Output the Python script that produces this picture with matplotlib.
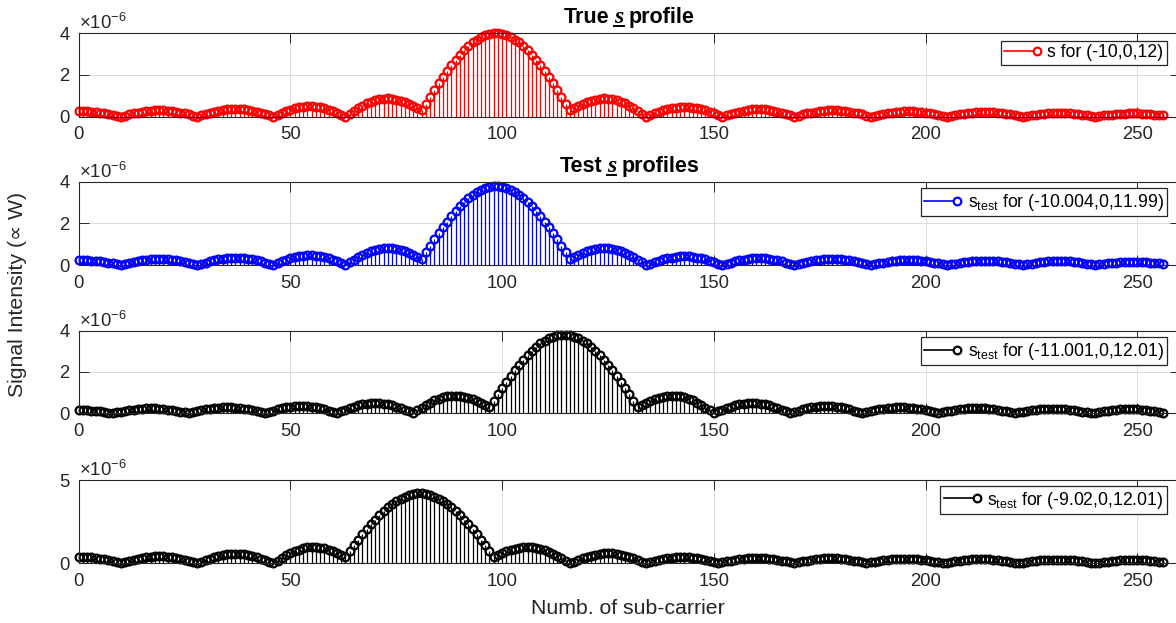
import numpy as np
import matplotlib
matplotlib.use('Agg')
import matplotlib.pyplot as plt
from matplotlib.legend_handler import HandlerLine2D
from matplotlib.lines import Line2D
from matplotlib.ticker import ScalarFormatter
from matplotlib.transforms import IdentityTransform

plt.rcParams['font.family'] = ['Liberation Sans', 'DejaVu Sans']
plt.rcParams['mathtext.fontset'] = 'custom'
plt.rcParams['mathtext.rm'] = 'Liberation Sans'
plt.rcParams['mathtext.it'] = 'Liberation Sans:italic'
plt.rcParams['mathtext.bf'] = 'Liberation Sans:bold'

# signal intensity per sub-carrier, in units of 1e-6 W
s_true = [
    0.25, 0.25, 0.25, 0.23, 0.22, 0.19, 0.16, 0.13, 0.09, 0.04, 0.00,
    0.05, 0.11, 0.16, 0.20, 0.24, 0.27, 0.29, 0.30, 0.31, 0.30, 0.29, 0.27, 0.24, 0.20, 0.16, 0.11, 0.05, 0.00,
    0.06, 0.13, 0.19, 0.24, 0.28, 0.32, 0.35, 0.36, 0.37, 0.36, 0.35, 0.32, 0.28, 0.24, 0.19, 0.13, 0.06, 0.00,
    0.09, 0.18, 0.26, 0.34, 0.40, 0.45, 0.48, 0.50, 0.50, 0.48, 0.45, 0.40, 0.34, 0.26, 0.18, 0.09, 0.00,
    0.14, 0.28, 0.41, 0.53, 0.64, 0.72, 0.79, 0.84, 0.87, 0.88, 0.86, 0.82, 0.77, 0.70, 0.61, 0.51, 0.41, 0.30,
    0.63, 0.96, 1.28, 1.60, 1.91, 2.20, 2.48, 2.73, 2.97, 3.19, 3.39, 3.56, 3.70, 3.82, 3.91, 3.97, 4.00,
    4.00, 3.97, 3.91, 3.82, 3.70, 3.56, 3.39, 3.19, 2.97, 2.73, 2.48, 2.20, 1.91, 1.60, 1.28, 0.96, 0.63, 0.30,
    0.41, 0.51, 0.61, 0.70, 0.77, 0.82, 0.86, 0.88, 0.87, 0.84, 0.79, 0.72, 0.64, 0.53, 0.41, 0.28, 0.14, 0.00,
    0.08, 0.16, 0.23, 0.30, 0.35, 0.40, 0.43, 0.45, 0.46, 0.45, 0.43, 0.40, 0.35, 0.30, 0.23, 0.16, 0.08, 0.00,
    0.07, 0.13, 0.19, 0.24, 0.29, 0.32, 0.35, 0.36, 0.36, 0.35, 0.32, 0.29, 0.24, 0.19, 0.13, 0.07, 0.00,
    0.05, 0.11, 0.16, 0.20, 0.24, 0.27, 0.29, 0.30, 0.31, 0.30, 0.29, 0.27, 0.24, 0.20, 0.16, 0.11, 0.05, 0.00,
    0.04, 0.09, 0.13, 0.16, 0.19, 0.22, 0.24, 0.25, 0.25, 0.25, 0.24, 0.22, 0.19, 0.16, 0.13, 0.09, 0.04, 0.00,
    0.04, 0.08, 0.11, 0.14, 0.17, 0.19, 0.21, 0.22, 0.22, 0.22, 0.21, 0.19, 0.17, 0.14, 0.11, 0.08, 0.04, 0.00,
    0.03, 0.07, 0.10, 0.13, 0.15, 0.17, 0.18, 0.19, 0.19, 0.18, 0.17, 0.15, 0.13, 0.10, 0.07, 0.03, 0.00,
    0.03, 0.06, 0.08, 0.10, 0.12, 0.14, 0.15, 0.16, 0.16, 0.16, 0.15, 0.14, 0.12, 0.10, 0.08, 0.06]

s_test_1 = [
    0.22, 0.22, 0.22, 0.21, 0.19, 0.17, 0.14, 0.11, 0.08, 0.04, 0.00,
    0.05, 0.10, 0.15, 0.19, 0.23, 0.26, 0.28, 0.30, 0.30, 0.30, 0.28, 0.26, 0.23, 0.19, 0.15, 0.10, 0.05, 0.00,
    0.06, 0.12, 0.18, 0.23, 0.28, 0.31, 0.34, 0.35, 0.36, 0.35, 0.34, 0.31, 0.28, 0.23, 0.18, 0.12, 0.06, 0.00,
    0.09, 0.17, 0.25, 0.32, 0.38, 0.42, 0.45, 0.47, 0.47, 0.45, 0.42, 0.38, 0.32, 0.25, 0.17, 0.09, 0.00,
    0.13, 0.26, 0.38, 0.49, 0.59, 0.67, 0.74, 0.78, 0.81, 0.82, 0.80, 0.77, 0.72, 0.66, 0.58, 0.49, 0.40, 0.30,
    0.61, 0.92, 1.23, 1.52, 1.81, 2.09, 2.35, 2.59, 2.82, 3.02, 3.20, 3.36, 3.50, 3.61, 3.69, 3.75, 3.78,
    3.78, 3.75, 3.69, 3.61, 3.50, 3.36, 3.20, 3.02, 2.82, 2.59, 2.35, 2.09, 1.81, 1.52, 1.23, 0.92, 0.61, 0.30,
    0.40, 0.49, 0.58, 0.66, 0.72, 0.77, 0.80, 0.82, 0.81, 0.78, 0.74, 0.67, 0.59, 0.49, 0.38, 0.26, 0.13, 0.00,
    0.07, 0.14, 0.21, 0.27, 0.32, 0.36, 0.39, 0.41, 0.42, 0.41, 0.39, 0.36, 0.32, 0.27, 0.21, 0.14, 0.07, 0.00,
    0.06, 0.12, 0.17, 0.22, 0.26, 0.30, 0.32, 0.33, 0.33, 0.32, 0.30, 0.26, 0.22, 0.17, 0.12, 0.06, 0.00,
    0.05, 0.10, 0.15, 0.19, 0.22, 0.25, 0.27, 0.29, 0.29, 0.29, 0.27, 0.25, 0.22, 0.19, 0.15, 0.10, 0.05, 0.00,
    0.04, 0.08, 0.12, 0.15, 0.18, 0.21, 0.23, 0.24, 0.24, 0.24, 0.23, 0.21, 0.18, 0.15, 0.12, 0.08, 0.04, 0.00,
    0.04, 0.07, 0.11, 0.14, 0.16, 0.18, 0.20, 0.21, 0.21, 0.21, 0.20, 0.18, 0.16, 0.14, 0.11, 0.07, 0.04, 0.00,
    0.03, 0.07, 0.10, 0.13, 0.15, 0.17, 0.18, 0.19, 0.19, 0.18, 0.17, 0.15, 0.13, 0.10, 0.07, 0.03, 0.00,
    0.03, 0.06, 0.08, 0.10, 0.12, 0.14, 0.15, 0.16, 0.16, 0.16, 0.15, 0.14, 0.12, 0.10, 0.08, 0.06]

s_test_2 = [
    0.17, 0.16, 0.15, 0.13, 0.11, 0.09, 0.06, 0.03, 0.00,
    0.04, 0.08, 0.12, 0.15, 0.18, 0.21, 0.23, 0.24, 0.24, 0.24, 0.23, 0.21, 0.18, 0.15, 0.12, 0.08, 0.04, 0.00,
    0.05, 0.10, 0.15, 0.19, 0.22, 0.25, 0.27, 0.29, 0.29, 0.29, 0.27, 0.25, 0.22, 0.19, 0.15, 0.10, 0.05, 0.00,
    0.07, 0.13, 0.19, 0.24, 0.29, 0.32, 0.35, 0.36, 0.36, 0.35, 0.32, 0.29, 0.24, 0.19, 0.13, 0.07, 0.00,
    0.09, 0.17, 0.25, 0.32, 0.38, 0.43, 0.47, 0.49, 0.50, 0.49, 0.47, 0.43, 0.38, 0.32, 0.25, 0.17, 0.09, 0.00,
    0.14, 0.27, 0.40, 0.52, 0.62, 0.71, 0.77, 0.82, 0.85, 0.86, 0.84, 0.81, 0.75, 0.68, 0.60, 0.51, 0.40, 0.30,
    0.61, 0.93, 1.23, 1.53, 1.82, 2.09, 2.36, 2.60, 2.83, 3.04, 3.22, 3.38, 3.52, 3.63, 3.71, 3.77, 3.80,
    3.80, 3.77, 3.71, 3.63, 3.52, 3.38, 3.22, 3.04, 2.83, 2.60, 2.36, 2.09, 1.82, 1.53, 1.23, 0.93, 0.61, 0.30,
    0.40, 0.51, 0.60, 0.68, 0.75, 0.81, 0.84, 0.86, 0.85, 0.82, 0.77, 0.71, 0.62, 0.52, 0.40, 0.27, 0.14, 0.00,
    0.09, 0.17, 0.25, 0.32, 0.38, 0.43, 0.47, 0.49, 0.50, 0.49, 0.47, 0.43, 0.38, 0.32, 0.25, 0.17, 0.09, 0.00,
    0.07, 0.13, 0.19, 0.24, 0.29, 0.32, 0.35, 0.36, 0.36, 0.35, 0.32, 0.29, 0.24, 0.19, 0.13, 0.07, 0.00,
    0.05, 0.10, 0.15, 0.19, 0.23, 0.26, 0.28, 0.30, 0.30, 0.30, 0.28, 0.26, 0.23, 0.19, 0.15, 0.10, 0.05, 0.00,
    0.05, 0.09, 0.13, 0.17, 0.20, 0.23, 0.24, 0.26, 0.26, 0.26, 0.24, 0.23, 0.20, 0.17, 0.13, 0.09, 0.05, 0.00,
    0.04, 0.08, 0.11, 0.14, 0.17, 0.19, 0.21, 0.22, 0.22, 0.22, 0.21, 0.19, 0.17, 0.14, 0.11, 0.08, 0.04, 0.00,
    0.03, 0.07, 0.10, 0.13, 0.15, 0.17, 0.19, 0.20, 0.20, 0.20, 0.19, 0.17, 0.15, 0.13, 0.10, 0.07, 0.03]

s_test_3 = [
    0.36, 0.37, 0.36, 0.35, 0.32, 0.28, 0.24, 0.19, 0.13, 0.06, 0.00,
    0.07, 0.14, 0.21, 0.27, 0.32, 0.36, 0.39, 0.41, 0.42, 0.41, 0.39, 0.36, 0.32, 0.27, 0.21, 0.14, 0.07, 0.00,
    0.10, 0.19, 0.28, 0.36, 0.43, 0.48, 0.53, 0.55, 0.56, 0.55, 0.53, 0.48, 0.43, 0.36, 0.28, 0.19, 0.10, 0.00,
    0.16, 0.32, 0.47, 0.61, 0.72, 0.82, 0.90, 0.95, 0.97, 0.97, 0.94, 0.89, 0.82, 0.73, 0.63, 0.52, 0.40,
    0.74, 1.08, 1.41, 1.74, 2.05, 2.35, 2.63, 2.90, 3.15, 3.37, 3.57, 3.75, 3.89, 4.01, 4.10, 4.17, 4.20,
    4.20, 4.17, 4.10, 4.01, 3.89, 3.75, 3.57, 3.37, 3.15, 2.90, 2.63, 2.35, 2.05, 1.74, 1.41, 1.08, 0.74, 0.40,
    0.51, 0.62, 0.71, 0.80, 0.87, 0.92, 0.96, 0.97, 0.96, 0.93, 0.87, 0.79, 0.69, 0.58, 0.45, 0.30, 0.15, 0.00,
    0.10, 0.21, 0.30, 0.39, 0.46, 0.52, 0.56, 0.59, 0.60, 0.59, 0.56, 0.52, 0.46, 0.39, 0.30, 0.21, 0.10, 0.00,
    0.07, 0.14, 0.20, 0.26, 0.30, 0.34, 0.37, 0.38, 0.38, 0.37, 0.34, 0.30, 0.26, 0.20, 0.14, 0.07, 0.00,
    0.05, 0.11, 0.16, 0.20, 0.24, 0.27, 0.29, 0.30, 0.31, 0.30, 0.29, 0.27, 0.24, 0.20, 0.16, 0.11, 0.05, 0.00,
    0.06, 0.11, 0.16, 0.20, 0.24, 0.27, 0.29, 0.30, 0.30, 0.29, 0.27, 0.24, 0.20, 0.16, 0.11, 0.06, 0.00,
    0.05, 0.09, 0.14, 0.17, 0.21, 0.23, 0.25, 0.27, 0.27, 0.27, 0.25, 0.23, 0.21, 0.17, 0.14, 0.09, 0.05, 0.00,
    0.04, 0.09, 0.13, 0.16, 0.19, 0.22, 0.23, 0.25, 0.25, 0.25, 0.23, 0.22, 0.19, 0.16, 0.13, 0.09, 0.04, 0.00,
    0.04, 0.08, 0.11, 0.14, 0.17, 0.19, 0.21, 0.22, 0.22, 0.22, 0.21, 0.19, 0.17, 0.14, 0.11, 0.08, 0.04, 0.00,
    0.03, 0.07, 0.10, 0.13, 0.15, 0.17, 0.19, 0.20, 0.20, 0.20, 0.19, 0.17, 0.15, 0.13, 0.10, 0.07]

series = [s_true, s_test_1, s_test_2, s_test_3]
colors = ['#ff0000', '#0000ff', '#000000', '#000000']
labels = ['s for (-10,0,12)',
          r'$\mathregular{s_{test}}$ for (-10.004,0,11.99)',
          r'$\mathregular{s_{test}}$ for (-11.001,0,12.01)',
          r'$\mathregular{s_{test}}$ for (-9.02,0,12.01)']
y_max = [4, 4, 4, 5]
y_ticks = [[0, 2, 4], [0, 2, 4], [0, 2, 4], [0, 5]]
x_ticks = [0, 50, 100, 150, 200, 250]

# axes boxes in figure fractions (left, bottom, width, height)
boxes = [(0.0669, 0.8127, 0.9363, 0.1339),
         (0.0669, 0.5746, 0.9363, 0.1337),
         (0.0669, 0.3366, 0.9363, 0.1326),
         (0.0669, 0.0958, 0.9363, 0.1337)]
leg_top = [0.908, 0.921, 0.921, 0.928]

TICK_FS = 13.3
LEG_FS = 12.7
LABEL_FS = 15.3
DARK = '#262626'


class EndMarkerHandler(HandlerLine2D):
    # MATLAB-like legend sample: marker only at the right end of the line
    def create_artists(self, *args, **kwargs):
        arts = super().create_artists(*args, **kwargs)
        for a in arts:
            a.set_markevery([len(a.get_xdata()) - 1])
        return arts


fig = plt.figure(figsize=(11.76, 6.23), dpi=100)
axes = []
for i, vals in enumerate(series):
    ax = fig.add_axes(boxes[i])
    axes.append(ax)
    c = colors[i]
    y = np.array(vals) * 1e-6
    x = np.arange(len(y))
    ml, sl, bl = ax.stem(x, y, linefmt='-', markerfmt='o', basefmt=' ')
    sl.set_color(c)
    sl.set_linewidth(0.9)
    ml.set_color(c)
    ml.set_markerfacecolor('none')
    ml.set_markersize(5.6)
    ml.set_markeredgewidth(1.6)
    ml.set_clip_on(False)
    bl.set_visible(False)

    ax.set_xlim(0, 260)
    ax.set_ylim(0, y_max[i] * 1e-6)
    ax.set_xticks(x_ticks)
    ax.set_yticks([t * 1e-6 for t in y_ticks[i]])
    fmt = ScalarFormatter(useMathText=True)
    fmt.set_powerlimits((-3, 3))
    ax.yaxis.set_major_formatter(fmt)
    ax.yaxis.get_offset_text().set_fontsize(TICK_FS)
    ax.yaxis.get_offset_text().set_color(DARK)

    ax.grid(True, color='#dcdcdc', linewidth=0.7)
    ax.set_axisbelow(True)
    ax.tick_params(direction='in', length=7, width=0.7, top=True, right=True,
                   labelsize=TICK_FS, labelcolor=DARK, color=DARK)
    ax.tick_params(axis='x', pad=7)
    ax.tick_params(axis='y', pad=6)
    for sp in ax.spines.values():
        sp.set_color(DARK)
        sp.set_linewidth(0.8)

    proxy = Line2D([], [], color=c, lw=1.2, marker='o', ms=5.5,
                   mfc='white', mew=1.6)
    leg = ax.legend([proxy], [labels[i]], loc='upper right',
                    bbox_to_anchor=(0.9884, leg_top[i]), borderaxespad=0,
                    handler_map={Line2D: EndMarkerHandler()},
                    handlelength=1.85, handletextpad=0.6, borderpad=0.2,
                    fancybox=False, framealpha=1, fontsize=LEG_FS)
    leg.get_frame().set_edgecolor(DARK)
    leg.get_frame().set_linewidth(0.9)

fig.text(0.0153, 0.528, 'Signal Intensity (\u221d W)', rotation=90,
         ha='center', va='center', fontsize=LABEL_FS, color=DARK)
fig.text(0.534, 0.0225, 'Numb. of sub-carrier', ha='center', va='center',
         fontsize=LABEL_FS, color=DARK)

fig.canvas.draw()
renderer = fig.canvas.get_renderer()


def s_title(ax, head, tail):
    # bold title with an italic, underlined serif "s" in the middle
    ident = IdentityTransform()
    cx, top = ax.transAxes.transform((0.5, 1.0))
    yb = top + 10
    kw = dict(fontsize=15.5, fontweight='bold', color='black',
              ha='left', va='baseline', transform=ident)
    a = fig.text(0, yb, head, **kw)
    s = fig.text(0, yb, 's', fontsize=17, fontweight='bold', style='italic',
                 family='Liberation Serif', color='black', ha='left',
                 va='baseline', transform=ident)
    b = fig.text(0, yb, tail, **kw)
    wa, ws, wb = (t.get_window_extent(renderer).width for t in (a, s, b))
    gap = 5
    x0 = cx - (wa + ws + wb + 2 * gap) / 2
    a.set_x(x0)
    s.set_x(x0 + wa + gap)
    b.set_x(x0 + wa + gap + ws + gap)
    fig.add_artist(Line2D([x0 + wa + gap, x0 + wa + gap + ws], [yb - 3, yb - 3],
                          color='black', lw=1.4, transform=ident))


s_title(axes[0], 'True', 'profile')
s_title(axes[1], 'Test', 'profiles')

fig.savefig('out.png', dpi=100)
